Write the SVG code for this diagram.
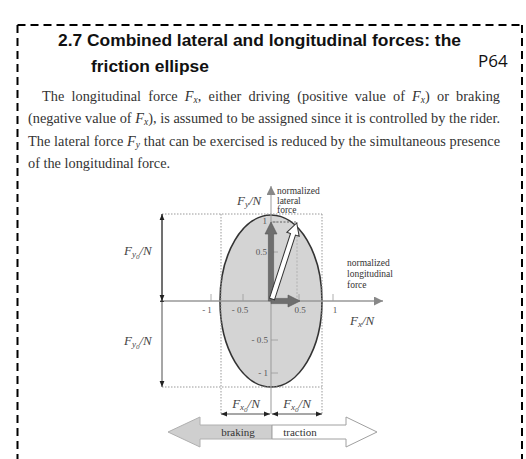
<svg xmlns="http://www.w3.org/2000/svg" width="526" height="459" viewBox="0 0 526 459">
<defs>
<style>
.title{font-family:"Liberation Sans",Arial,sans-serif;font-weight:bold;font-size:17.4px;fill:#111}
.p{font-family:"Liberation Serif","Times New Roman",serif;font-size:14.3px;fill:#333}
.lbl{font-family:"Liberation Serif","Times New Roman",serif;font-size:9.5px;fill:#333}
.math{font-family:"Liberation Serif","Times New Roman",serif;font-size:13px;font-style:italic;fill:#444}
.tick{font-family:"Liberation Serif","Times New Roman",serif;font-size:9px;fill:#555}
.it{font-style:italic}
.dot{stroke:#999;stroke-width:1;stroke-dasharray:1.5 1.5;fill:none}
.dim{stroke:#222;stroke-width:0.8;fill:none}
</style>
<marker id="ah" viewBox="0 0 10 10" refX="10" refY="5" markerWidth="6" markerHeight="6" orient="auto-start-reverse" markerUnits="userSpaceOnUse"><path d="M0,1 L10,5 L0,9 z" fill="#222"/></marker>
<marker id="axh" viewBox="0 0 10 10" refX="10" refY="5" markerWidth="9" markerHeight="9" orient="auto" markerUnits="userSpaceOnUse"><path d="M0,0 L10,5 L0,10 z" fill="#888"/></marker>
</defs>
<rect width="526" height="459" fill="#fff"/>
<path d="M17.5,25 H522 M17.5,25 V459 M522,25 V459" stroke="#000" stroke-width="2" stroke-dasharray="8 5" fill="none"/>
<g id="title">
<text class="title" x="58" y="46">2.7 Combined lateral and longitudinal forces: the</text>
<text class="title" x="91" y="72">friction ellipse</text>
<text x="478" y="67" font-family="Open Sans, sans-serif" font-size="17" fill="#111">P64</text>
</g>
<g id="paragraph">
<text class="p" x="42" y="101" word-spacing="3.5" textLength="458" lengthAdjust="spacing">The longitudinal force <tspan class="it">F</tspan><tspan class="it" font-size="9.5" dy="2">x</tspan><tspan dy="-2">, either driving (positive value of </tspan><tspan class="it">F</tspan><tspan class="it" font-size="9.5" dy="2">x</tspan><tspan dy="-2">) or braking</tspan></text>
<text class="p" x="28" y="123" textLength="472" lengthAdjust="spacing">(negative value of <tspan class="it">F</tspan><tspan class="it" font-size="9.5" dy="2">x</tspan><tspan dy="-2">), is assumed to be assigned since it is controlled by the rider.</tspan></text>
<text class="p" x="28" y="146" textLength="472" lengthAdjust="spacing">The lateral force <tspan class="it">F</tspan><tspan class="it" font-size="9.5" dy="2">y</tspan><tspan dy="-2"> that can be exercised is reduced by the simultaneous presence</tspan></text>
<text class="p" x="28" y="168">of the longitudinal force.</text>
</g>
<g id="ellipse">
<ellipse cx="271" cy="301" rx="51" ry="86" fill="#d4d4d4" stroke="#333" stroke-width="1.6"/>
</g>
<g id="guides">
<path class="dot" d="M162,214 H322 M162,387 H322 M221,214 V414 M322,214 V414"/>
<path d="M273,222 H297" stroke="#444" stroke-width="0.8" stroke-dasharray="2 1.5"/>
<path d="M297,222 V301" stroke="#aaa" stroke-width="0.8" stroke-dasharray="2 1.5"/>
</g>
<g id="axes">
<path d="M160,301 H383" stroke="#999" stroke-width="1.4" marker-end="url(#axh)"/>
<path d="M271,414 V186" stroke="#999" stroke-width="1" marker-end="url(#axh)"/>
<path d="M211,301 v-7 M243,301 v-7 M299,301 v-7 M333,301 v-7 M271,222 h7 M271,252 h7 M271,340 h7 M271,373 h7" stroke="#999" stroke-width="0.8"/>
<text class="tick" x="207" y="313" text-anchor="middle">- 1</text>
<text class="tick" x="240" y="313" text-anchor="middle">- 0.5</text>
<text class="tick" x="300" y="313" text-anchor="middle">0.5</text>
<text class="tick" x="335" y="313" text-anchor="middle">1</text>
<text class="tick" x="267" y="224" text-anchor="end">1</text>
<text class="tick" x="267" y="255" text-anchor="end">0.5</text>
<text class="tick" x="268" y="343" text-anchor="end">- 0.5</text>
<text class="tick" x="268" y="376" text-anchor="end">- 1</text>
</g>
<g id="connectors">
<path class="dim" d="M162,301 V214" marker-end="url(#ah)"/>
<path class="dim" d="M162,214 V301" marker-end="url(#ah)"/>
<path class="dim" d="M162,301 V387" marker-end="url(#ah)"/>
<path class="dim" d="M160,301.5 H164"/>
<path class="dim" d="M221,414 H270" marker-start="url(#ah)" marker-end="url(#ah)"/>
<path class="dim" d="M272,414 H322" marker-start="url(#ah)" marker-end="url(#ah)"/>
</g>
<g id="force-vectors">
<g transform="translate(271,301) rotate(-90)"><polygon points="0,-2.6 67,-2.6 67,-6 79,0 67,6 67,2.6 0,2.6" fill="#6e6e6e" stroke="#555" stroke-width="0.6"/></g>
<g transform="translate(271,301)"><polygon points="0,-2.6 17,-2.6 17,-6 29,0 17,6 17,2.6 0,2.6" fill="#6e6e6e" stroke="#555" stroke-width="0.6"/></g>
<g transform="translate(272,299) rotate(-72)"><polygon points="0,-2.6 68,-2.6 68,-6.5 80,0 68,6.5 68,2.6 0,2.6" fill="#fff" stroke="#333" stroke-width="1"/></g>
</g>
<g id="labels">
<text class="math" x="237" y="205">F<tspan font-size="9" dy="2">y</tspan><tspan dy="-2">/N</tspan></text>
<text class="lbl" x="277" y="194">normalized</text>
<text class="lbl" x="277" y="203.5">lateral</text>
<text class="lbl" x="277" y="213">force</text>
<text class="lbl" x="347" y="266">normalized</text>
<text class="lbl" x="347" y="277">longitudinal</text>
<text class="lbl" x="347" y="288">force</text>
<text class="math" x="350" y="325">F<tspan font-size="9" dy="2">x</tspan><tspan dy="-2">/N</tspan></text>
<text class="math" x="124" y="255">F<tspan font-size="9" dy="2">y</tspan><tspan font-size="7" dy="2">0</tspan><tspan dy="-4">/N</tspan></text>
<text class="math" x="124" y="345">F<tspan font-size="9" dy="2">y</tspan><tspan font-size="7" dy="2">0</tspan><tspan dy="-4">/N</tspan></text>
<text class="math" x="246" y="408" text-anchor="middle">F<tspan font-size="9" dy="2">x</tspan><tspan font-size="7" dy="2">0</tspan><tspan dy="-4">/N</tspan></text>
<text class="math" x="297" y="408" text-anchor="middle">F<tspan font-size="9" dy="2">x</tspan><tspan font-size="7" dy="2">0</tspan><tspan dy="-4">/N</tspan></text>
</g>
<g id="braking">
<polygon points="272,425 200,425 200,417 168,432 200,447 200,439 272,439" fill="#cfcfcf" stroke="#b0b0b0" stroke-width="1"/>
<text x="238" y="436" text-anchor="middle" font-family="Liberation Serif, serif" font-size="11" fill="#333">braking</text>
</g>
<g id="traction">
<polygon points="272,425 346,425 346,417 377,432 346,447 346,439 272,439" fill="#fff" stroke="#a0a0a0" stroke-width="1"/>
<text x="300" y="436" text-anchor="middle" font-family="Liberation Serif, serif" font-size="11" fill="#333">traction</text>
</g>
</svg>
